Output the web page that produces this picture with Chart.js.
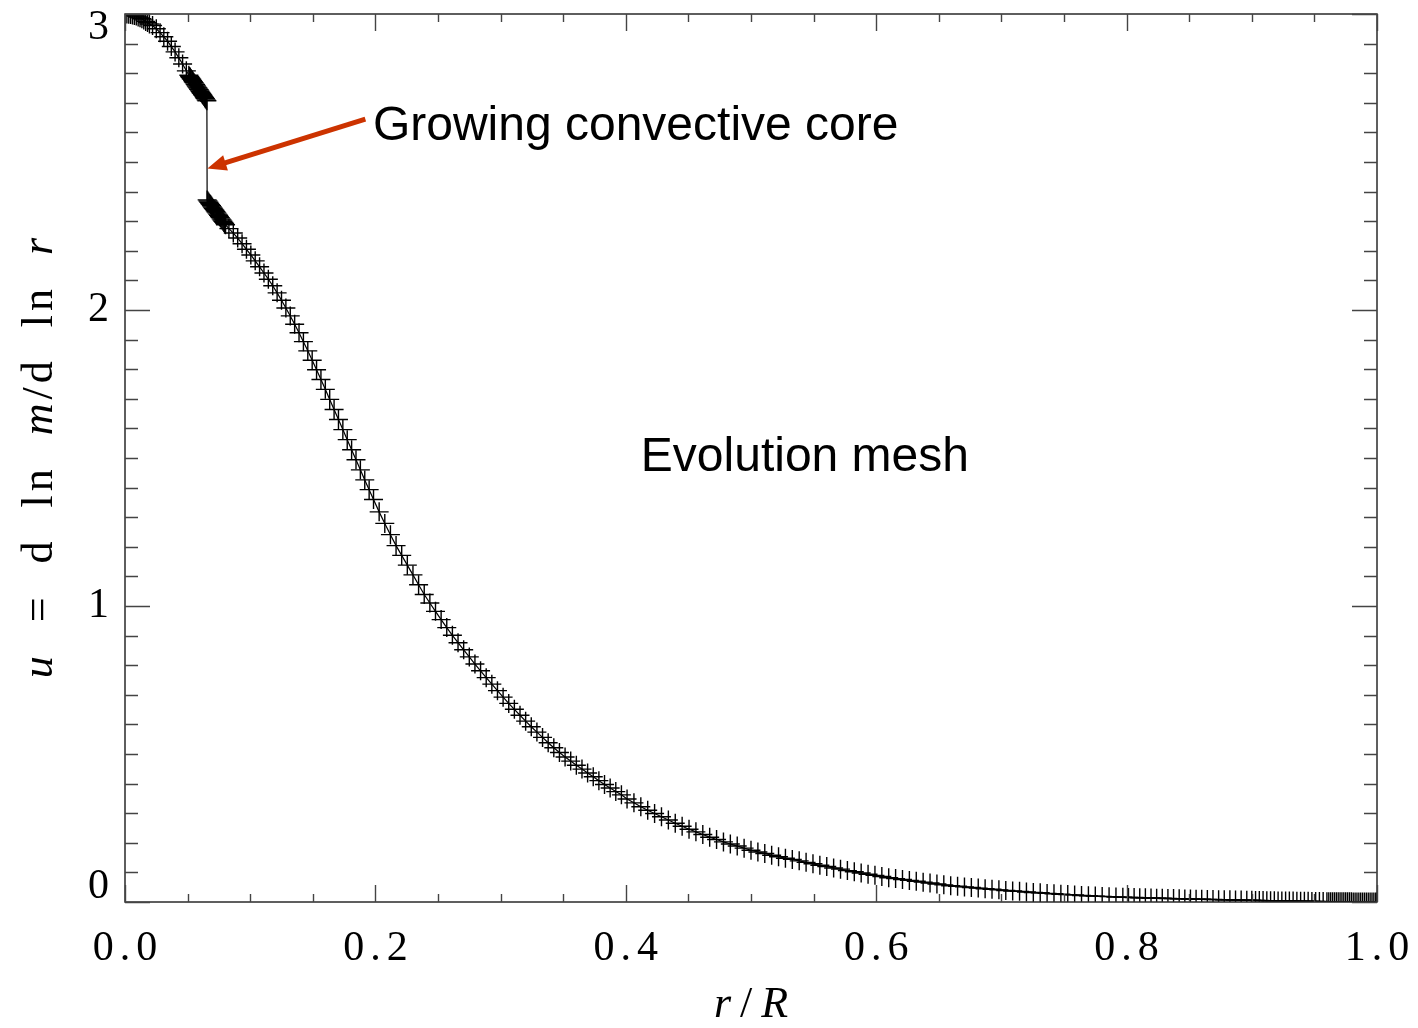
<!DOCTYPE html>
<html>
<head>
<meta charset="utf-8">
<title>Evolution mesh</title>
<script src="https://cdn.jsdelivr.net/npm/chart.js@4.4.1/dist/chart.umd.min.js"></script>
<style>
  html, body { margin: 0; padding: 0; background: #fff; }
  #wrap { width: 1418px; height: 1028px; }
</style>
</head>
<body>
<div id="wrap"><canvas id="chart"></canvas></div>
<script>
// mesh points: r/R and u = d ln m / d ln r
const rMesh = [
  0, 0.0015, 0.003, 0.0045, 0.006, 0.0075, 0.009, 0.0105, 0.012, 0.0135, 0.015, 0.0165, 0.018, 0.0195,
  0.022, 0.025, 0.028, 0.031, 0.034, 0.037, 0.040, 0.043, 0.046, 0.049,
  0.0510, 0.0516, 0.0522, 0.0528, 0.0534, 0.0540, 0.0546, 0.0552, 0.0558, 0.0564, 0.0570, 0.0576,
  0.0582, 0.0588, 0.0594, 0.0600, 0.0606, 0.0612, 0.0618, 0.0624, 0.0630, 0.0636, 0.0642, 0.0648, 0.0654,
  0.0656, 0.0663, 0.0670, 0.0677, 0.0684, 0.0691, 0.0698, 0.0705, 0.0712, 0.0719, 0.0726, 0.0733,
  0.0740, 0.0747, 0.0754, 0.0761, 0.0768, 0.0775, 0.0782, 0.0789, 0.0796, 0.0803,
  0.0830, 0.0865, 0.0900, 0.0935, 0.0970, 0.1005, 0.1040, 0.1075, 0.1110, 0.1145, 0.1180, 0.1215,
  0.1250, 0.1285, 0.1320, 0.1355, 0.1390, 0.1425, 0.1460, 0.1495, 0.1530, 0.1565, 0.1600, 0.1635,
  0.1670, 0.1705, 0.1740, 0.1775, 0.1810, 0.1845, 0.1880, 0.1915, 0.1950, 0.1985,
  0.2030, 0.2075, 0.2120, 0.2165, 0.2210, 0.2255, 0.2300, 0.2345, 0.2390, 0.2435, 0.2480, 0.2525,
  0.2570, 0.2615, 0.2660, 0.2705, 0.2750, 0.2795, 0.2840, 0.2885, 0.2930, 0.2975, 0.3020, 0.3065,
  0.3110, 0.3155, 0.3200, 0.3245, 0.3290, 0.3335, 0.3380, 0.3425, 0.3470, 0.3515, 0.3560, 0.3605,
  0.3650, 0.3695, 0.3740, 0.3785, 0.3830, 0.3875, 0.3920, 0.3965,
  0.4010, 0.4065, 0.4120, 0.4175, 0.4230, 0.4285, 0.4340, 0.4395, 0.4450, 0.4505, 0.4560, 0.4615,
  0.4670, 0.4725, 0.4780, 0.4835, 0.4890, 0.4945, 0.5000, 0.5055, 0.5110, 0.5165, 0.5220, 0.5275,
  0.5330, 0.5385, 0.5440, 0.5495, 0.5550, 0.5605, 0.5660, 0.5715, 0.5770, 0.5825, 0.5880, 0.5935,
  0.5990, 0.6045, 0.6100, 0.6155, 0.6210, 0.6265, 0.6320, 0.6375, 0.6430, 0.6485, 0.6540, 0.6595,
  0.6650, 0.6705, 0.6760, 0.6815, 0.6870, 0.6925, 0.6980, 0.7035, 0.7090, 0.7145, 0.7200, 0.7255,
  0.7310, 0.7365, 0.7420, 0.7475, 0.7530, 0.7585, 0.7640, 0.7695, 0.7750, 0.7805, 0.7860, 0.7915, 0.7970,
  0.8015, 0.8060, 0.8105, 0.8150, 0.8195, 0.8240, 0.8285, 0.8330, 0.8375, 0.8420, 0.8465, 0.8510,
  0.8555, 0.8600, 0.8645, 0.8690, 0.8735, 0.8780, 0.8825, 0.8870, 0.8915, 0.8960, 0.9000,
  0.9030, 0.9060, 0.9090, 0.9120, 0.9150, 0.9180, 0.9210, 0.9240, 0.9270, 0.9300, 0.9330, 0.9360,
  0.9390, 0.9420, 0.9450, 0.9480, 0.9510, 0.9540, 0.9570, 0.9600,
  0.9615, 0.9630, 0.9645, 0.9660, 0.9675, 0.9690, 0.9705, 0.9720, 0.9735, 0.9750, 0.9765, 0.9780,
  0.9795, 0.9810, 0.9825, 0.9840, 0.9855, 0.9870, 0.9885, 0.9900, 0.9915, 0.9930, 0.9945, 0.9960,
  0.9975, 0.9990, 1.0
];
const uMesh = [
  3.000, 3.000, 2.999, 2.998, 2.997, 2.995, 2.993, 2.990, 2.987, 2.984, 2.980, 2.975, 2.971, 2.966,
  2.961, 2.950, 2.937, 2.923, 2.908, 2.890, 2.872, 2.852, 2.831, 2.808,
  2.793, 2.789, 2.786, 2.782, 2.779, 2.775, 2.771, 2.768, 2.764, 2.761, 2.757, 2.753,
  2.750, 2.746, 2.743, 2.739, 2.735, 2.732, 2.728, 2.725, 2.721, 2.717, 2.714, 2.710, 2.707,
  2.372, 2.368, 2.364, 2.360, 2.356, 2.352, 2.348, 2.344, 2.340, 2.336, 2.332, 2.328,
  2.324, 2.320, 2.316, 2.312, 2.308, 2.304, 2.300, 2.296, 2.292, 2.288,
  2.275, 2.260, 2.243, 2.224, 2.205, 2.186, 2.166, 2.146, 2.125, 2.104, 2.082, 2.058,
  2.033, 2.007, 1.980, 1.952, 1.923, 1.893, 1.862, 1.830, 1.798, 1.765, 1.732, 1.698,
  1.664, 1.630, 1.596, 1.562, 1.528, 1.494, 1.460, 1.426, 1.393, 1.360,
  1.318, 1.279, 1.241, 1.204, 1.171, 1.138, 1.105, 1.072, 1.039, 1.010, 0.982, 0.954,
  0.927, 0.901, 0.876, 0.852, 0.828, 0.804, 0.781, 0.758, 0.736, 0.714, 0.692, 0.671,
  0.651, 0.631, 0.611, 0.592, 0.574, 0.556, 0.538, 0.521, 0.505, 0.490, 0.476, 0.462,
  0.449, 0.436, 0.423, 0.410, 0.397, 0.385, 0.373, 0.362,
  0.348, 0.335, 0.322, 0.310, 0.299, 0.288, 0.277, 0.266, 0.256, 0.246, 0.237, 0.228,
  0.219, 0.211, 0.203, 0.196, 0.189, 0.182, 0.175, 0.169, 0.164, 0.158, 0.153, 0.148,
  0.144, 0.139, 0.134, 0.129, 0.124, 0.120, 0.115, 0.111, 0.106, 0.102, 0.098, 0.094,
  0.090, 0.086, 0.082, 0.079, 0.076, 0.073, 0.070, 0.067, 0.064, 0.061, 0.058, 0.055,
  0.053, 0.051, 0.049, 0.047, 0.045, 0.043, 0.041, 0.039, 0.037, 0.036, 0.034, 0.032,
  0.031, 0.029, 0.028, 0.026, 0.025, 0.024, 0.022, 0.021, 0.020, 0.019, 0.018, 0.017, 0.016,
  0.0155, 0.0150, 0.0145, 0.0140, 0.0135, 0.0130, 0.0125, 0.0120, 0.0115, 0.0110, 0.0105, 0.0100,
  0.0096, 0.0092, 0.0088, 0.0084, 0.0080, 0.0076, 0.0072, 0.0068, 0.0064, 0.0060, 0.0057,
  0.0054, 0.0051, 0.0048, 0.0045, 0.0042, 0.0040, 0.0038, 0.0036, 0.0034, 0.0032, 0.0030, 0.0028,
  0.0026, 0.0024, 0.0022, 0.0020, 0.0018, 0.0016, 0.0014, 0.0012,
  0.0011, 0.0010, 0.0010, 0.0009, 0.0009, 0.0008, 0.0008, 0.0007, 0.0007, 0.0006, 0.0006, 0.0005,
  0.0005, 0.0004, 0.0004, 0.0003, 0.0003, 0.0002, 0.0002, 0.0002, 0.0001, 0.0001, 0.0001, 0.0000,
  0.0000, 0.0000, 0.0000
];

const xMajorTicks = [0, 0.2, 0.4, 0.6, 0.8, 1.0];
const xTickLabels = ["0.0", "0.2", "0.4", "0.6", "0.8", "1.0"];
const xMinorTicks = [0.05, 0.1, 0.15, 0.25, 0.3, 0.35, 0.45, 0.5, 0.55, 0.65, 0.7, 0.75, 0.85, 0.9, 0.95];
const yMajorTicks = [0, 1, 2, 3];
const yTickLabels = ["0", "1", "2", "3"];
const yMinorTicks = [0.1, 0.2, 0.3, 0.4, 0.5, 0.6, 0.7, 0.8, 0.9,
  1.1, 1.2, 1.3, 1.4, 1.5, 1.6, 1.7, 1.8, 1.9,
  2.1, 2.2, 2.3, 2.4, 2.5, 2.6, 2.7, 2.8, 2.9];

// notes placed in data coordinates
const coreNote = { text: "Growing convective core", r: 0.198, u: 2.575 };
const meshNote = { text: "Evolution mesh", r: 0.412, u: 1.455 };
const coreArrow = { fromR: 0.192, fromU: 2.645, toR: 0.0658, toU: 2.478 };

const serif = '"Liberation Serif", "DejaVu Serif", serif';

// draws the text in pieces (some italic) with extra letter spacing
function drawPieces(ctx, pieces, size, spacing, cx, baseY) {
  ctx.letterSpacing = spacing + 'px';
  let total = 0;
  const widths = pieces.map(p => {
    ctx.font = (p[1] ? 'italic ' : '') + size + 'px ' + serif;
    const w = ctx.measureText(p[0]).width;
    total += w;
    return w;
  });
  total -= spacing;
  let x = cx - total / 2;
  ctx.textAlign = 'left';
  ctx.textBaseline = 'alphabetic';
  pieces.forEach((p, i) => {
    ctx.font = (p[1] ? 'italic ' : '') + size + 'px ' + serif;
    ctx.fillText(p[0], x, baseY);
    x += widths[i];
  });
  ctx.letterSpacing = '0px';
}

const idlFrame = {
  id: 'idlFrame',
  afterDatasetsDraw(chart) {
    const { ctx, chartArea: a } = chart;
    const x = chart.scales.x, y = chart.scales.y;
    ctx.save();

    // box and inward ticks on all four sides
    ctx.strokeStyle = '#2a2a2a';
    ctx.lineWidth = 1.5;
    ctx.strokeRect(a.left, a.top, a.right - a.left, a.bottom - a.top);
    ctx.beginPath();
    const xTick = (v, len) => {
      const px = Math.round(x.getPixelForValue(v)) + 0.5;
      ctx.moveTo(px, a.bottom); ctx.lineTo(px, a.bottom - len);
      ctx.moveTo(px, a.top); ctx.lineTo(px, a.top + len);
    };
    const yTick = (v, len) => {
      const py = Math.round(y.getPixelForValue(v)) + 0.5;
      ctx.moveTo(a.left, py); ctx.lineTo(a.left + len, py);
      ctx.moveTo(a.right, py); ctx.lineTo(a.right - len, py);
    };
    xMajorTicks.forEach(v => xTick(v, 17));
    xMinorTicks.forEach(v => xTick(v, 8));
    yMajorTicks.forEach(v => yTick(v, 25));
    yMinorTicks.forEach(v => yTick(v, 13));
    ctx.lineWidth = 1.4;
    ctx.strokeStyle = '#444';
    ctx.stroke();

    // tick labels
    ctx.fillStyle = '#000';
    ctx.font = '42px ' + serif;
    ctx.textBaseline = 'middle';
    ctx.textAlign = 'center';
    ctx.letterSpacing = '6px';
    xTickLabels.forEach((t, i) => {
      ctx.fillText(t, x.getPixelForValue(xMajorTicks[i]) + 3, a.bottom + 47);
    });
    ctx.letterSpacing = '0px';
    ctx.textAlign = 'right';
    yTickLabels.forEach((t, i) => {
      let py = y.getPixelForValue(yMajorTicks[i]);
      py = Math.min(Math.max(py, a.top + 14), a.bottom - 15);
      ctx.fillText(t, a.left - 16, py);
    });

    // axis titles
    drawPieces(ctx, [["r", true], ["/", false], ["R", true]], 44, 9, (a.left + a.right) / 2, a.bottom + 115);
    ctx.save();
    ctx.translate(a.left - 73, (a.top + a.bottom) / 2);
    ctx.rotate(-Math.PI / 2);
    drawPieces(ctx, [["u", true], ["  =  d  ln  ", false], ["m", true], ["/d  ln  ", false], ["r", true]], 44, 4, 0, 0);
    ctx.restore();

    // annotations
    ctx.font = '48px "Liberation Sans", Arial, sans-serif';
    ctx.textAlign = 'left';
    ctx.textBaseline = 'alphabetic';
    ctx.fillText(coreNote.text, x.getPixelForValue(coreNote.r), y.getPixelForValue(coreNote.u));
    ctx.fillText(meshNote.text, x.getPixelForValue(meshNote.r), y.getPixelForValue(meshNote.u));

    const x0 = x.getPixelForValue(coreArrow.fromR), y0 = y.getPixelForValue(coreArrow.fromU);
    const x1 = x.getPixelForValue(coreArrow.toR), y1 = y.getPixelForValue(coreArrow.toU);
    const ang = Math.atan2(y1 - y0, x1 - x0);
    const head = 19, half = 8;
    const bx = x1 - head * Math.cos(ang), by = y1 - head * Math.sin(ang);
    ctx.strokeStyle = '#cc3300';
    ctx.fillStyle = '#cc3300';
    ctx.lineWidth = 5;
    ctx.beginPath();
    ctx.moveTo(x0, y0);
    ctx.lineTo(bx + 3 * Math.cos(ang), by + 3 * Math.sin(ang));
    ctx.stroke();
    ctx.beginPath();
    ctx.moveTo(x1, y1);
    ctx.lineTo(bx + half * Math.sin(ang), by - half * Math.cos(ang));
    ctx.lineTo(bx - half * Math.sin(ang), by + half * Math.cos(ang));
    ctx.closePath();
    ctx.fill();

    ctx.restore();
  }
};

new Chart(document.getElementById("chart"), {
  type: 'scatter',
  data: {
    datasets: [{
      label: 'u',
      data: rMesh.map((r, i) => ({ x: r, y: uMesh[i] })),
      showLine: true,
      borderColor: '#000',
      borderWidth: 1.2,
      pointStyle: 'cross',
      pointRadius: 9.5,
      pointBorderWidth: 1.4,
      pointBorderColor: '#000',
      pointHoverRadius: 9.5,
      clip: 0
    }]
  },
  options: {
    responsive: true,
    maintainAspectRatio: false,
    animation: false,
    layout: { padding: { left: 125, right: 41, top: 14, bottom: 126 } },
    plugins: {
      legend: { display: false },
      tooltip: { enabled: false }
    },
    scales: {
      x: { type: 'linear', min: 0, max: 1, display: false },
      y: { type: 'linear', min: 0, max: 3, display: false }
    }
  },
  plugins: [idlFrame]
});
</script>
</body>
</html>
